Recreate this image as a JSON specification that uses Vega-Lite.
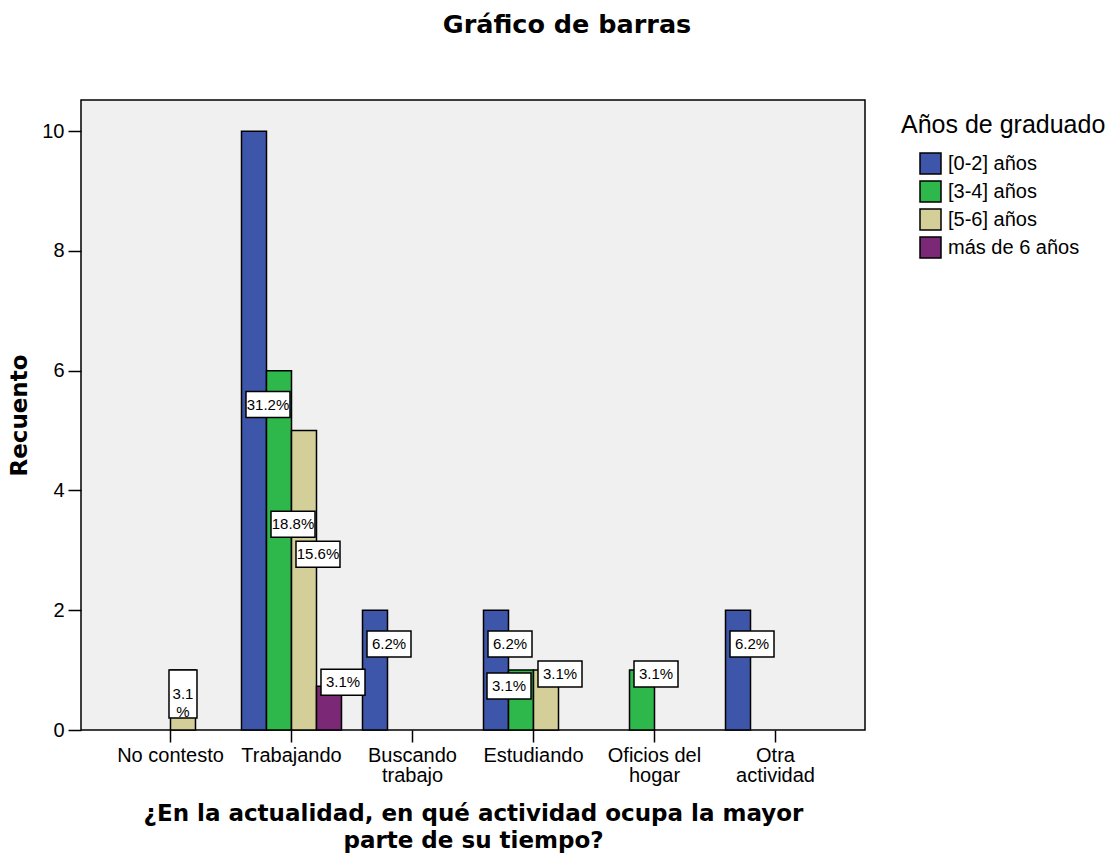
{
  "$schema": "https://vega.github.io/schema/vega-lite/v6.json",
  "width": 784,
  "height": 630,
  "autosize": {"type": "none"},
  "padding": {"left": 81, "top": 100, "right": 254, "bottom": 129},
  "background": "white",
  "title": {
    "text": "Gráfico de barras",
    "font": "DejaVu Sans",
    "fontSize": 25.5,
    "fontWeight": "bold",
    "color": "black",
    "anchor": "middle",
    "frame": "group",
    "dx": 94,
    "offset": 62
  },
  "config": {
    "font": "Liberation Sans",
    "view": {"fill": "#F0F0F0", "stroke": "black", "strokeWidth": 1.5}
  },
  "data": {
    "values": [
      {"actividad": "No contesto", "grupo": "[5-6] años", "recuento": 1, "porcentaje": "3.1%"},
      {"actividad": "Trabajando", "grupo": "[0-2] años", "recuento": 10, "porcentaje": "31.2%"},
      {"actividad": "Trabajando", "grupo": "[3-4] años", "recuento": 6, "porcentaje": "18.8%"},
      {"actividad": "Trabajando", "grupo": "[5-6] años", "recuento": 5, "porcentaje": "15.6%"},
      {"actividad": "Trabajando", "grupo": "más de 6 años", "recuento": 0.73, "porcentaje": "3.1%"},
      {"actividad": "Buscando trabajo", "grupo": "[0-2] años", "recuento": 2, "porcentaje": "6.2%"},
      {"actividad": "Estudiando", "grupo": "[0-2] años", "recuento": 2, "porcentaje": "6.2%"},
      {"actividad": "Estudiando", "grupo": "[3-4] años", "recuento": 1, "porcentaje": "3.1%"},
      {"actividad": "Estudiando", "grupo": "[5-6] años", "recuento": 1, "porcentaje": "3.1%"},
      {"actividad": "Oficios del hogar", "grupo": "[3-4] años", "recuento": 1, "porcentaje": "3.1%"},
      {"actividad": "Otra actividad", "grupo": "[0-2] años", "recuento": 2, "porcentaje": "6.2%"}
    ]
  },
  "encoding": {
    "x": {
      "field": "actividad",
      "type": "nominal",
      "sort": ["No contesto", "Trabajando", "Buscando trabajo", "Estudiando", "Oficios del hogar", "Otra actividad"],
      "scale": {
        "domain": ["No contesto", "Trabajando", "Buscando trabajo", "Estudiando", "Oficios del hogar", "Otra actividad"],
        "paddingInner": 0.1736,
        "paddingOuter": 0.3264
      },
      "axis": {
        "title": ["¿En la actualidad, en qué actividad ocupa la mayor", "parte de su tiempo?"],
        "labelAngle": 0,
        "labelExpr": "datum.value == 'Buscando trabajo' ? ['Buscando', 'trabajo'] : datum.value == 'Oficios del hogar' ? ['Oficios del', 'hogar'] : datum.value == 'Otra actividad' ? ['Otra', 'actividad'] : datum.value",
        "labelFontSize": 20,
        "labelColor": "black",
        "labelLineHeight": 20,
        "labelPadding": 3,
        "labelOverlap": false,
        "bandPosition": 0.5,
        "tickSize": 12,
        "tickWidth": 1.5,
        "tickColor": "black",
        "domain": false,
        "grid": false,
        "titleFont": "DejaVu Sans",
        "titleFontSize": 23,
        "titleFontWeight": "bold",
        "titleColor": "black",
        "titleLineHeight": 27,
        "titlePadding": 17
      }
    },
    "xOffset": {
      "field": "grupo",
      "type": "nominal",
      "scale": {
        "domain": ["[0-2] años", "[3-4] años", "[5-6] años", "más de 6 años"],
        "paddingInner": 0,
        "paddingOuter": 0
      }
    }
  },
  "layer": [
    {
      "mark": {"type": "bar", "stroke": "black", "strokeWidth": 1.5},
      "encoding": {
        "y": {
          "field": "recuento",
          "type": "quantitative",
          "scale": {"domain": [0, 10.52], "nice": false},
          "axis": {
            "title": "Recuento",
            "values": [0, 2, 4, 6, 8, 10],
            "tickSize": 13,
            "tickWidth": 1.5,
            "tickColor": "black",
            "domain": false,
            "grid": false,
            "labelFontSize": 20,
            "labelColor": "black",
            "labelPadding": 4,
            "titleFont": "DejaVu Sans",
            "titleFontSize": 23,
            "titleFontWeight": "bold",
            "titleColor": "black",
            "titlePadding": 10
          }
        },
        "color": {
          "field": "grupo",
          "type": "nominal",
          "scale": {
            "domain": ["[0-2] años", "[3-4] años", "[5-6] años", "más de 6 años"],
            "range": ["#3D56A9", "#2EB84B", "#D4CF98", "#7B2877"]
          },
          "legend": {
            "title": "Años de graduado",
            "orient": "none",
            "legendX": 820,
            "legendY": 13,
            "padding": 0,
            "titleFontSize": 25,
            "titleFontWeight": "normal",
            "titleColor": "black",
            "titleLimit": 400,
            "titlePadding": 14,
            "labelFontSize": 20,
            "labelColor": "black",
            "labelLimit": 300,
            "labelOffset": 6,
            "symbolType": "square",
            "symbolSize": 441,
            "symbolStrokeColor": "black",
            "symbolStrokeWidth": 1.5,
            "symbolOffset": 18,
            "rowPadding": 1
          }
        }
      }
    },
    {
      "transform": [{"filter": "datum.actividad != 'No contesto' && !(datum.actividad == 'Estudiando' && datum.grupo == '[3-4] años')"}],
      "layer": [
        {
          "mark": {
            "type": "point",
            "shape": "M-0.3636,-1.7727H1.6364V-0.5909H-0.3636Z",
            "size": 1936,
            "filled": true,
            "fill": "white",
            "stroke": "black",
            "strokeWidth": 1.5,
            "opacity": 1
          },
          "encoding": {
            "y": {"field": "recuento", "type": "quantitative", "scale": {"domain": [0, 21.04], "nice": false}, "axis": null}
          }
        },
        {
          "mark": {"type": "text", "dx": 14, "dy": -26, "fontSize": 15, "color": "black", "align": "center", "baseline": "middle"},
          "encoding": {
            "y": {"field": "recuento", "type": "quantitative", "scale": {"domain": [0, 21.04], "nice": false}, "axis": null},
            "text": {"field": "porcentaje"}
          }
        }
      ]
    },
    {
      "transform": [{"filter": "datum.actividad == 'Estudiando' && datum.grupo == '[3-4] años'"}],
      "layer": [
        {
          "mark": {
            "type": "point",
            "shape": "M-1.5455,-1.2273H0.4545V-0.0455H-1.5455Z",
            "size": 1936,
            "filled": true,
            "fill": "white",
            "stroke": "black",
            "strokeWidth": 1.5,
            "opacity": 1
          },
          "encoding": {
            "y": {"field": "recuento", "type": "quantitative", "scale": {"domain": [0, 21.04], "nice": false}, "axis": null}
          }
        },
        {
          "mark": {"type": "text", "dx": -12, "dy": -14, "fontSize": 15, "color": "black", "align": "center", "baseline": "middle"},
          "encoding": {
            "y": {"field": "recuento", "type": "quantitative", "scale": {"domain": [0, 21.04], "nice": false}, "axis": null},
            "text": {"field": "porcentaje"}
          }
        }
      ]
    },
    {
      "transform": [{"filter": "datum.actividad == 'No contesto'"}],
      "layer": [
        {
          "mark": {
            "type": "point",
            "shape": "M-0.5833,-1.25H0.5833V0.75H-0.5833Z",
            "size": 2304,
            "filled": true,
            "fill": "white",
            "stroke": "black",
            "strokeWidth": 1.5,
            "opacity": 1
          },
          "encoding": {
            "y": {"field": "recuento", "type": "quantitative", "scale": {"domain": [0, 21.04], "nice": false}, "axis": null}
          }
        },
        {
          "mark": {"type": "text", "dx": 0, "dy": -6, "fontSize": 15, "lineHeight": 18, "color": "black", "align": "center", "baseline": "middle"},
          "encoding": {
            "y": {"field": "recuento", "type": "quantitative", "scale": {"domain": [0, 21.04], "nice": false}, "axis": null},
            "text": {"value": ["3.1", "%"]}
          }
        }
      ]
    }
  ],
  "resolve": {"scale": {"y": "independent"}}
}
